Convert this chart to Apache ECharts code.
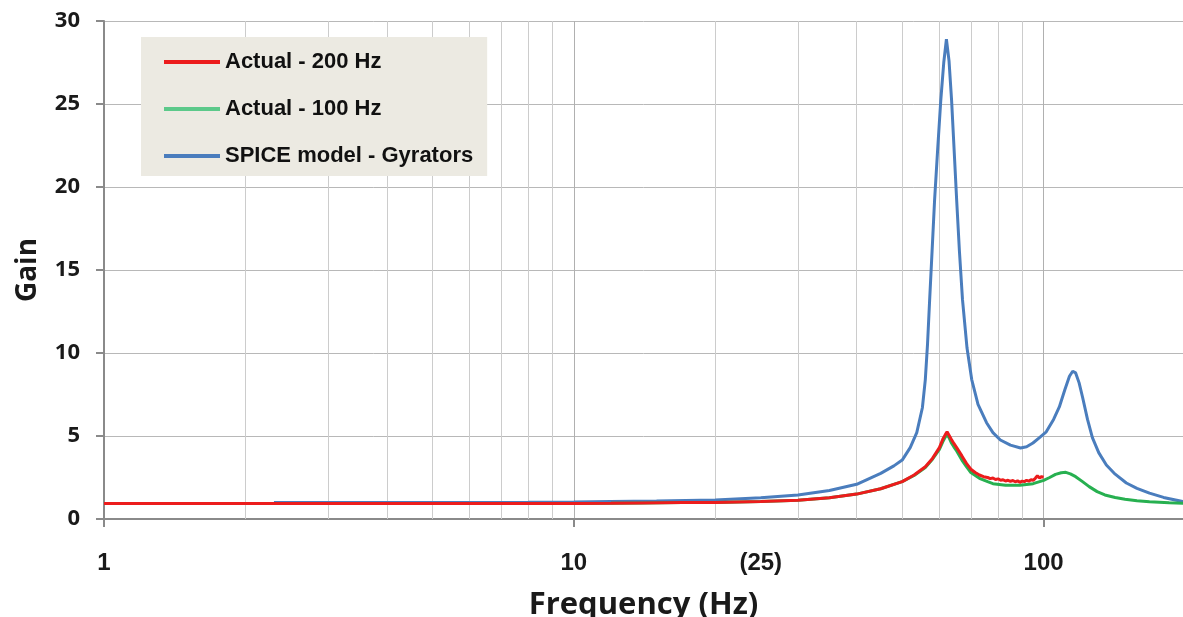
<!DOCTYPE html>
<html>
<head>
<meta charset="utf-8">
<script src="https://cdn.jsdelivr.net/npm/echarts@6/dist/echarts.min.js"></script>
<style>
html,body{margin:0;padding:0;background:#fff;}
#chart{width:1183px;height:617px;}
</style>
</head>
<body>
<div id="chart"></div>
<script>
// ---- data (frequency Hz, gain) ----
var seriesNames = ['Actual - 200 Hz', 'Actual - 100 Hz', 'SPICE model - Gyrators'];
var xTickLabels = [1, 10, 100];
var extraTickLabel = { value: 25, text: '(25)' };
var minorGridFreqs = [2,3,4,5,6,7,8,9,20,30,40,50,60,70,80,90];
var yTicks = [0, 5, 10, 15, 20, 25, 30];

var actual200 = [[1,0.93],[2,0.93],[3,0.93],[5,0.93],[8,0.93],[10,0.94],[12,0.95],[14,0.97],[17,0.99],[20,1.0],[25,1.05],[30,1.13],[35,1.28],[40,1.5],[45,1.82],[50,2.25],[53,2.65],[56,3.15],[58,3.65],[60,4.3],[61,4.8],[61.8,5.1],[62.3,5.25],[62.9,5.05],[63.6,4.8],[64.4,4.55],[65.3,4.3],[67,3.8],[68.5,3.35],[70,3.0],[71.5,2.8],[73,2.65],[74.5,2.55],[76,2.5],[77,2.43],[78,2.47],[79,2.38],[80,2.42],[81,2.33],[82,2.36],[83,2.29],[84,2.33],[85,2.27],[86,2.32],[87,2.24],[88,2.3],[89,2.21],[90,2.28],[91,2.25],[92,2.33],[93,2.28],[94,2.36],[95,2.33],[96,2.45],[97,2.6],[98,2.48],[99,2.55],[100,2.52]];

var actual100 = [[1,0.93],[2,0.93],[3,0.93],[5,0.93],[8,0.93],[10,0.94],[12,0.95],[14,0.97],[17,0.99],[20,1.0],[25,1.05],[30,1.13],[35,1.28],[40,1.5],[45,1.82],[50,2.25],[53,2.62],[56,3.1],[58,3.6],[60,4.2],[61,4.65],[61.8,4.95],[62.3,5.1],[62.9,4.9],[63.6,4.6],[64.4,4.35],[65.3,4.1],[67,3.55],[68.5,3.15],[70,2.8],[73,2.45],[76,2.25],[78,2.13],[83,2.03],[89,2.03],[95,2.13],[100,2.33],[103,2.5],[106,2.69],[109,2.79],[111.5,2.81],[114,2.72],[117,2.55],[121,2.25],[125,1.95],[130,1.65],[135,1.45],[142,1.3],[149,1.19],[158,1.1],[168,1.04],[185,0.98],[200,0.95]];

var spice = [[2.3,1.0],[3,1.0],[5,1.0],[8,1.01],[10,1.02],[12,1.05],[15,1.08],[20,1.15],[25,1.28],[30,1.45],[35,1.72],[40,2.09],[45,2.75],[48,3.2],[50,3.55],[52,4.3],[53.7,5.2],[55.2,6.7],[56,8.4],[56.6,10.5],[57.2,13.2],[57.9,16.2],[58.6,19.2],[59.5,22.3],[60.4,25.2],[61.3,27.5],[62.1,28.9],[62.9,27.6],[63.7,25.2],[64.5,22.2],[65.3,19.2],[66.2,16.1],[67.2,13.2],[68.7,10.3],[70.3,8.4],[72.5,6.9],[75.6,5.8],[78,5.2],[80.9,4.76],[85,4.45],[89.3,4.28],[92,4.35],[94.9,4.58],[98,4.9],[101.3,5.25],[105,6.0],[108,6.75],[111,7.8],[113.5,8.6],[115.3,8.9],[117,8.8],[119,8.2],[121,7.35],[124,6.0],[127,4.9],[131,4.0],[136,3.25],[142,2.7],[150,2.17],[158,1.85],[168,1.56],[180,1.3],[200,1.02]];

var colors = { red: '#ec1c1c', green: '#27b050', blue: '#4a7dbd' };

var chart = echarts.init(document.getElementById('chart'));
var labelFont = '"Open Sans", "DejaVu Sans", sans-serif';
var tickFont = '"Liberation Sans", Arial, sans-serif';

var minorLines = minorGridFreqs.map(function (f) { return { xAxis: f }; });

chart.setOption({
  animation: false,
  backgroundColor: '#ffffff',
  grid: { left: 104, right: 0, top: 21, bottom: 98, containLabel: false, outerBoundsMode: 'none' },
  legend: {
    data: seriesNames,
    orient: 'vertical',
    left: 141,
    top: 37,
    padding: [13, 14, 8, 23],
    backgroundColor: '#ECEAE2',
    itemWidth: 56,
    itemHeight: 4,
    itemGap: 23,
    icon: 'rect',
    textStyle: { fontFamily: tickFont, fontWeight: 'bold', fontSize: 22, color: '#111', lineHeight: 24 }
  },
  xAxis: {
    type: 'log',
    logBase: 10,
    min: 1,
    max: 198,
    name: 'Frequency (Hz)',
    nameLocation: 'middle',
    nameGap: 71,
    nameTextStyle: { fontFamily: labelFont, fontWeight: 'bold', fontSize: 31, color: '#1a1a1a' },
    axisLine: { show: true, lineStyle: { color: '#8a8a8a', width: 2 } },
    axisTick: { show: true, length: 8, lineStyle: { color: '#8a8a8a', width: 2 } },
    axisLabel: {
      margin: 32,
      showMaxLabel: false,
      fontFamily: tickFont, fontWeight: 'bold', fontSize: 24, color: '#1a1a1a',
      formatter: function (v) { return xTickLabels.indexOf(Math.round(v)) >= 0 ? String(Math.round(v)) : ''; }
    },
    splitLine: { show: true, lineStyle: { color: '#b0b0b0', width: 1 } }
  },
  yAxis: {
    type: 'value',
    min: yTicks[0],
    max: yTicks[yTicks.length - 1],
    interval: 5,
    name: 'Gain',
    nameLocation: 'middle',
    nameRotate: 90,
    nameGap: 62,
    nameTextStyle: { fontFamily: labelFont, fontWeight: 'bold', fontSize: 28, color: '#1a1a1a' },
    axisLine: { show: true, lineStyle: { color: '#8a8a8a', width: 2 } },
    axisTick: { show: true, length: 8, lineStyle: { color: '#8a8a8a', width: 2 } },
    axisLabel: { margin: 24, fontFamily: labelFont, fontWeight: 'bold', fontSize: 22, color: '#1a1a1a' },
    splitLine: { show: true, lineStyle: { color: '#b8b8b8', width: 1 } }
  },
  series: [
    {
      name: seriesNames[2], type: 'line', data: spice, showSymbol: false, symbol: 'none',
      lineStyle: { color: colors.blue, width: 3 }, itemStyle: { color: colors.blue }, z: 3,
      markLine: {
        silent: true, symbol: 'none', z: 1, animation: false,
        lineStyle: { color: '#cccccc', width: 1, type: 'solid' },
        label: { show: false },
        emphasis: { disabled: true },
        data: minorLines.concat([{
          xAxis: extraTickLabel.value,
          lineStyle: { color: 'rgba(255,255,255,0)', width: 0 },
          label: {
            show: true, position: 'start', distance: 32, formatter: extraTickLabel.text,
            fontFamily: tickFont, fontWeight: 'bold', fontSize: 24, color: '#1a1a1a'
          }
        }])
      }
    },
    {
      name: seriesNames[1], type: 'line', data: actual100, showSymbol: false, symbol: 'none',
      lineStyle: { color: colors.green, width: 3 }, itemStyle: { color: '#5cc98a' }, z: 4
    },
    {
      name: seriesNames[0], type: 'line', data: actual200, showSymbol: false, symbol: 'none',
      lineStyle: { color: colors.red, width: 3 }, itemStyle: { color: colors.red }, z: 5
    }
  ]
});
</script>
</body>
</html>
